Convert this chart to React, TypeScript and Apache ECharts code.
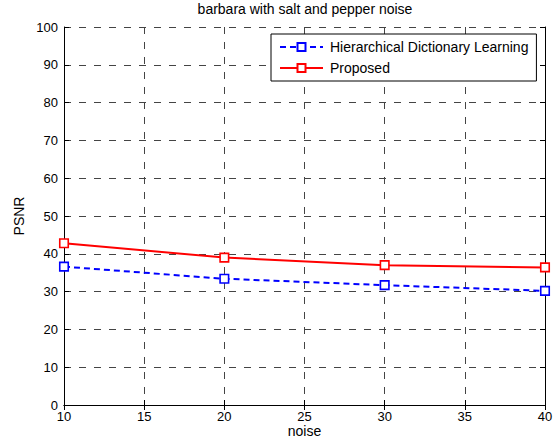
import React, { useEffect, useRef } from "react";
import * as echarts from "echarts";

const noiseLevels = [10, 20, 30, 40];
const hdlPSNR = [36.6, 33.4, 31.7, 30.2];
const proposedPSNR = [42.8, 39.0, 37.0, 36.4];
const seriesNames = ["Hierarchical Dictionary Learning", "Proposed"];
const titleText = "barbara with salt and pepper noise";

export default function App() {
  const ref = useRef<HTMLDivElement>(null);
  useEffect(() => {
    if (!ref.current) return;
    const chart = echarts.init(ref.current, null, { renderer: "svg" });
    const font = "'Liberation Sans', Arial, sans-serif";
    const grid = { left: 64, right: 12, top: 27, bottom: 34, containLabel: false, outerBoundsMode: "none" };
    const dashed = { color: "#444", type: [7, 8] as any, width: 1 };
    chart.setOption({
      animation: false,
      backgroundColor: "#fff",
      textStyle: { fontFamily: font },
      title: {
        text: titleText,
        left: 305,
        textAlign: "center",
        top: 0,
        padding: [2, 0, 0, 0],
        textStyle: { fontSize: 14, fontWeight: "normal", color: "#000", fontFamily: font },
      },
      grid,
      legend: {
        orient: "vertical",
        left: 271,
        top: 34,
        padding: [6, 8, 6, 8],
        itemGap: 7,
        itemWidth: 43,
        itemHeight: 10,
        borderColor: "#000",
        borderWidth: 1,
        backgroundColor: "#fff",
        textStyle: { fontSize: 14, color: "#000", fontFamily: font, padding: [0, 0, 0, 2] },
        data: seriesNames,
      },
      xAxis: [
        {
          type: "value",
          min: 10,
          max: 40,
          interval: 5,
          name: "noise",
          nameLocation: "middle",
          nameGap: 19,
          nameMoveOverlap: false,
          nameTextStyle: { fontSize: 14, lineHeight: 14, color: "#000", fontFamily: font, verticalAlign: "top" },
          axisLine: { show: true, lineStyle: { color: "#000", width: 1 } },
          axisTick: { show: true, inside: true, length: 5, lineStyle: { color: "#000" } },
          axisLabel: { fontSize: 13, color: "#000", margin: 5, fontFamily: font },
          splitLine: { show: true, lineStyle: dashed },
        },
        {
          type: "value",
          position: "top",
          min: 10,
          max: 40,
          interval: 5,
          axisLine: { show: true, lineStyle: { color: "#000", width: 1 } },
          axisTick: { show: true, inside: true, length: 5, lineStyle: { color: "#000" } },
          axisLabel: { show: false },
          splitLine: { show: false },
        },
      ],
      yAxis: [
        {
          type: "value",
          min: 0,
          max: 100,
          interval: 10,
          name: "PSNR",
          nameLocation: "middle",
          nameGap: 38,
          nameMoveOverlap: false,
          nameTextStyle: { fontSize: 14, color: "#000", fontFamily: font },
          axisLine: { show: true, lineStyle: { color: "#000", width: 1 } },
          axisTick: { show: true, inside: true, length: 5, lineStyle: { color: "#000" } },
          axisLabel: { fontSize: 13, color: "#000", margin: 6, fontFamily: font },
          splitLine: { show: true, lineStyle: dashed },
        },
        {
          type: "value",
          position: "right",
          min: 0,
          max: 100,
          interval: 10,
          axisLine: { show: true, lineStyle: { color: "#000", width: 1 } },
          axisTick: { show: true, inside: true, length: 5, lineStyle: { color: "#000" } },
          axisLabel: { show: false },
          splitLine: { show: false },
        },
      ],
      series: [
        {
          name: seriesNames[0],
          type: "line",
          data: noiseLevels.map((x, i) => [x, hdlPSNR[i]]),
          symbol: "rect",
          symbolSize: 8.5,
          lineStyle: { color: "#0000ff", width: 2, type: [6, 4] },
          itemStyle: { color: "#ffffff", borderColor: "#0000ff", borderWidth: 1.6 },
          z: 3,
        },
        {
          name: seriesNames[1],
          type: "line",
          data: noiseLevels.map((x, i) => [x, proposedPSNR[i]]),
          symbol: "rect",
          symbolSize: 8.5,
          lineStyle: { color: "#ff0000", width: 2 },
          itemStyle: { color: "#ffffff", borderColor: "#ff0000", borderWidth: 1.6 },
          z: 4,
        },
      ],
    });
    return () => chart.dispose();
  }, []);
  return <div ref={ref} style={{ width: 557, height: 439, position: "absolute", left: 0, top: 0 }} />;
}
